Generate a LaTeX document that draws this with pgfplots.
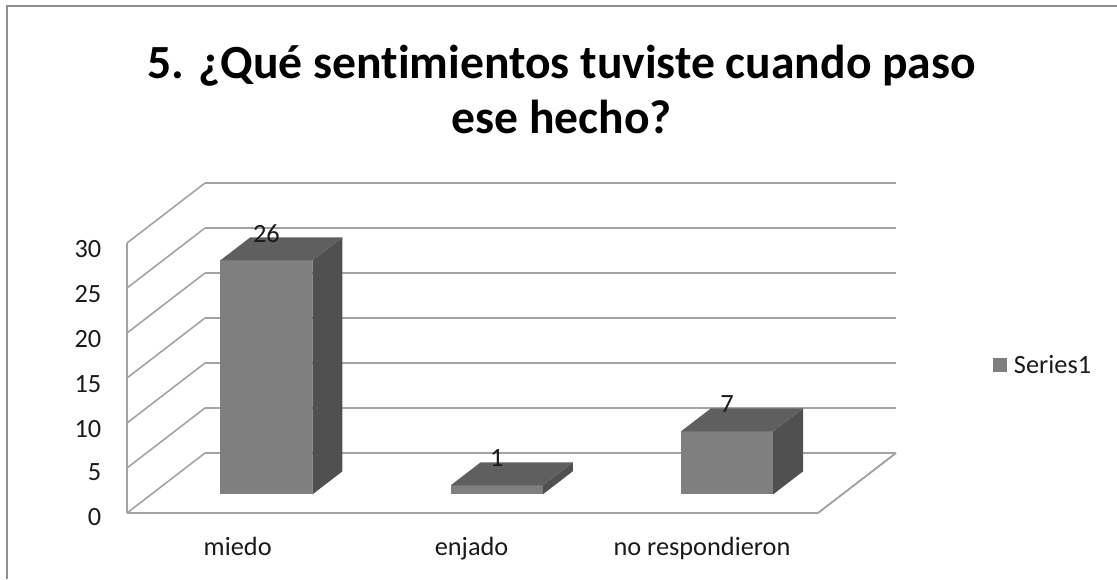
\documentclass[border=0pt]{standalone}
\usepackage{pgfplots}
\pgfplotsset{compat=1.18}
\usepackage{fontspec}
\setmainfont[Ligatures={TeX,NoCommon}]{Carlito}
\definecolor{gridc}{HTML}{A3A3A3}
\definecolor{framec}{HTML}{8E8E8E}
\definecolor{frontc}{HTML}{7F7F7F}
\definecolor{topc}{HTML}{5F5F5F}
\definecolor{sidec}{HTML}{505050}
\definecolor{textc}{HTML}{1A1A1A}
% one bar: x-left, x-right, value
\newcommand{\threedbar}[3]{%
  \addplot3[forget plot,draw=none,fill=frontc] coordinates {(#1,0.31,0) (#2,0.31,0) (#2,0.31,#3) (#1,0.31,#3)};
  \addplot3[forget plot,draw=none,fill=sidec] coordinates {(#2,0.31,0) (#2,0.695,0) (#2,0.695,#3) (#2,0.31,#3)};
  \addplot3[forget plot,draw=none,fill=topc] coordinates {(#1,0.31,#3) (#2,0.31,#3) (#2,0.695,#3) (#1,0.695,#3)};
}
\begin{document}
\begin{tikzpicture}[x=1pt,y=1pt]
\useasboundingbox (0,0) rectangle (837.75,434.25);
\draw[framec,line width=1.5pt] (5.6,0) -- (5.6,429.4) -- (837.75,429.4);
\node[align=center,font=\fontsize{35.7}{41.25}\selectfont\bfseries,text=black] at (421.2,367.5) {5. ¿Qué sentimientos tuviste cuando paso\\ese hecho?};
\begin{axis}[
  at={(95.25pt,49.5pt)},anchor=origin,
  x={(172.75pt,0pt)},y={(58.5pt,45pt)},z={(0pt,6.75pt)},
  xmin=0,xmax=3,ymin=0,ymax=1,zmin=0,zmax=30,
  clip=false,
  axis lines*=left,
  axis line style={gridc,line width=1.2pt,-},
  major tick length=0pt,
  xtick={0.48,1.5,2.5},xticklabels={miedo,enjado,no respondieron},
  ytick=\empty,
  ztick={0,5,...,30},
  zmajorgrids=true,
  grid style={gridc,line width=1.2pt},
  tick label style={font=\fontsize{19.75}{23}\selectfont,text=textc},
  xticklabel style={yshift=-15pt,xshift=5.25pt},
  zticklabel style={xshift=-15.75pt},
  /pgf/number format/assume math mode=true,
  legend style={draw=none,fill=none,at={(1.121,0.448)},anchor=west,font=\fontsize{19.75}{23}\selectfont,text=textc},
  legend image code/.code={\fill[frontc,draw=none] (0pt,-5.25pt) rectangle (10.5pt,5.25pt);\path[draw=none] (0pt,0pt) -- (13.5pt,0pt);},
]
\addlegendimage{}
\addlegendentry{Series1}
\addplot3[forget plot,gridc,line width=1.2pt] coordinates {(3,0,0) (3,1,0)};
\threedbar{0.3}{0.7}{26}
\threedbar{1.3}{1.7}{1}
\threedbar{2.3}{2.7}{7}
\node[font=\fontsize{19.75}{23}\selectfont,text=textc,yshift=20.25pt] at (axis cs:0.5,0.31,26) {26};
\node[font=\fontsize{19.75}{23}\selectfont,text=textc,yshift=20.25pt] at (axis cs:1.5,0.31,1) {1};
\node[font=\fontsize{19.75}{23}\selectfont,text=textc,yshift=20.25pt] at (axis cs:2.5,0.31,7) {7};
\end{axis}
\end{tikzpicture}
\end{document}
